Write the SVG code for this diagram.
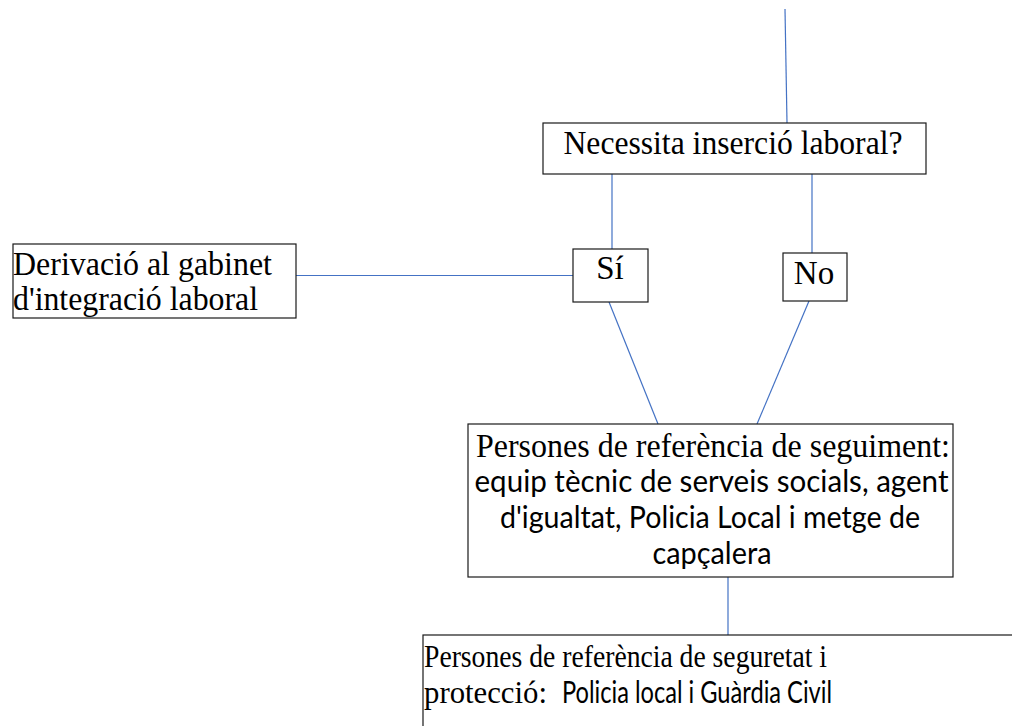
<svg xmlns="http://www.w3.org/2000/svg" width="1012" height="726" viewBox="0 0 1012 726">
<style>
.box{fill:#fff;stroke:#1a1a1a;stroke-width:1.2}
.con{fill:none;stroke:#4472C4;stroke-width:1.2}
.serif{font-family:"Liberation Serif","Times New Roman",serif;fill:#000}
.sans{font-family:Lato,"Open Sans",sans-serif;fill:#000}
</style>
<rect width="1012" height="726" fill="#fff"/>
<g id="connectors">
<line class="con" x1="785" y1="9" x2="787" y2="123"/>
<line class="con" x1="612" y1="174" x2="612" y2="249"/>
<line class="con" x1="812" y1="174" x2="812" y2="253"/>
<line class="con" x1="296" y1="275.5" x2="573" y2="275.5"/>
<line class="con" x1="609" y1="302" x2="658" y2="424"/>
<line class="con" x1="809" y1="301" x2="757" y2="424"/>
<line class="con" x1="728" y1="571" x2="728" y2="635"/>
</g>
<g id="node-necessita">
<rect class="box" x="543" y="123" width="383" height="51"/>
<text class="serif" x="733" y="154" font-size="33" text-anchor="middle" textLength="339" lengthAdjust="spacingAndGlyphs">Necessita inserció laboral?</text>
</g>
<g id="node-derivacio">
<rect class="box" x="13" y="244" width="283" height="74"/>
<text class="serif" x="13" y="275" font-size="33" textLength="259" lengthAdjust="spacingAndGlyphs">Derivació al gabinet</text>
<text class="serif" x="13" y="310" font-size="33" textLength="245" lengthAdjust="spacingAndGlyphs">d'integració laboral</text>
</g>
<g id="node-si">
<rect class="box" x="573" y="249" width="75" height="53"/>
<text class="serif" x="610" y="279" font-size="33" text-anchor="middle">Sí</text>
</g>
<g id="node-no">
<rect class="box" x="783" y="253" width="64" height="48"/>
<text class="serif" x="814" y="284" font-size="33" text-anchor="middle">No</text>
</g>
<g id="node-seguiment">
<rect class="box" x="468" y="424" width="485" height="153"/>
<text class="serif" x="713" y="457" font-size="33" text-anchor="middle" textLength="474" lengthAdjust="spacingAndGlyphs">Persones de referència de seguiment:</text>
<text class="sans" x="711.5" y="492" font-size="30" text-anchor="middle" textLength="474" lengthAdjust="spacingAndGlyphs">equip tècnic de serveis socials, agent</text>
<text class="sans" x="710" y="528" font-size="30" text-anchor="middle" textLength="420" lengthAdjust="spacingAndGlyphs">d'igualtat, Policia Local i metge de</text>
<text class="sans" x="712" y="564" font-size="30" text-anchor="middle" textLength="119" lengthAdjust="spacingAndGlyphs">capçalera</text>
</g>
<g id="node-seguretat">
<rect class="box" x="423" y="635" width="620" height="120"/>
<text class="serif" x="424" y="667" font-size="32" textLength="403" lengthAdjust="spacingAndGlyphs">Persones de referència de seguretat i</text>
<text class="serif" x="424" y="703" font-size="32" textLength="123" lengthAdjust="spacingAndGlyphs">protecció:</text>
<text class="sans" x="562" y="703" font-size="30" textLength="270" lengthAdjust="spacingAndGlyphs">Policia local i Guàrdia Civil</text>
</g>
</svg>
